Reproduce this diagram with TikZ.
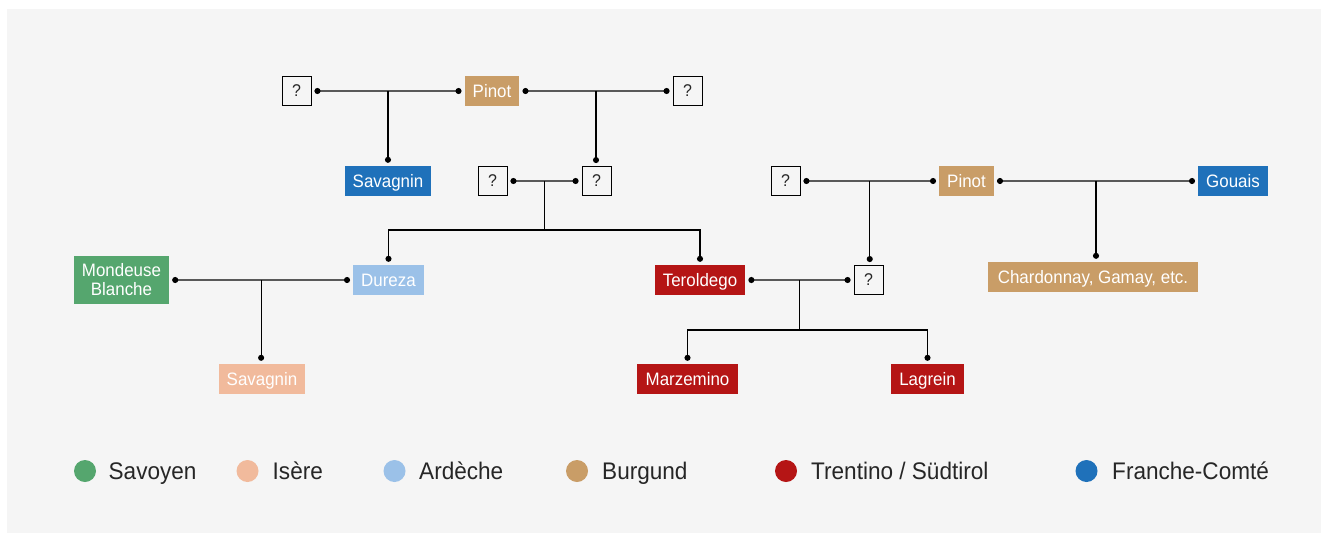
\documentclass[tikz,border=0pt]{standalone}
\usepackage{fontspec}
\setmainfont{Liberation Sans}[FakeStretch=0.94]
\usetikzlibrary{arrows.meta}

\definecolor{savoyen}{RGB}{85,166,110}
\definecolor{isere}{RGB}{241,186,156}
\definecolor{ardeche}{RGB}{155,193,232}
\definecolor{burgund}{RGB}{201,157,103}
\definecolor{trentino}{RGB}{181,21,21}
\definecolor{franche}{RGB}{31,113,186}
\definecolor{panel}{RGB}{245,245,245}

\begin{document}
\begin{tikzpicture}[x=1pt,y=-1pt]
  \useasboundingbox (0,0) rectangle (1321,533);
  \fill[panel] (7,9) rectangle (1321,533);

  \begin{scope}[every node/.style={rectangle,text=white,inner xsep=8pt,inner ysep=0pt,minimum height=30pt,text height=12.5pt,text depth=0pt,font=\fontsize{18}{19}\selectfont}]
      \node[fill=burgund] (pinot1) at (492,91) {Pinot};

      \node[fill=franche] (sav1) at (388,181) {Savagnin};
      \node[fill=burgund] (pinot2) at (966.5,181) {Pinot};
      \node[fill=franche] (gouais) at (1233,181) {Gouais};

      \node[fill=savoyen,align=center,text height={},text depth={},minimum height=48pt] (mond) at (121.5,280) {Mondeuse\\Blanche};
      \node[fill=ardeche] (dur) at (388.5,280) {Dureza};
      \node[fill=trentino] (ter) at (700,280) {Teroldego};
      \node[fill=burgund,inner xsep=10pt] (chard) at (1093,277) {Chardonnay, Gamay, etc.};

      \node[fill=isere] (sav2) at (262,379) {Savagnin};
      \node[fill=trentino,inner xsep=9pt] (marz) at (687.5,379) {Marzemino};
      \node[fill=trentino] (lag) at (927.5,379) {Lagrein};
  \end{scope}

  \begin{scope}[every node/.style={draw,line width=0.9pt,minimum size=29pt,inner sep=0pt,font=\fontsize{17}{17}\selectfont,text=black!85}]
      \node (q1) at (296.5,91) {?};
      \node (q2) at (687.5,91) {?};

      \node (q3) at (492.5,181) {?};
      \node (q4) at (596.5,181) {?};
      \node (q5) at (785.5,181) {?};

      \node (q6) at (868.5,280) {?};
  \end{scope}

  \tikzset{couple/.style={{Circle[length=6pt,black]}-{Circle[length=6pt,black]}, black!65, line width=1.7pt, shorten <=3pt, shorten >=3pt},
           child/.style={-{Circle[length=6pt]}, black, line width=1.2pt, shorten >=3pt},
           stem/.style={black, line width=1.2pt}}

  \draw[couple] (q1) -- coordinate (m1) (pinot1);
  \draw[couple] (pinot1) -- coordinate (m2) (q2);
  \draw[couple] (q3) -- coordinate (m3) (q4);
  \draw[couple] (mond) -- coordinate (m4) (dur);
  \draw[couple] (q5) -- coordinate (m5) (pinot2);
  \draw[couple] (ter) -- coordinate (m6) (q6);
  \draw[couple] (pinot2) -- coordinate (m7) (gouais);

  \draw[child] (m1) -- (m1 |- sav1.north);
  \draw[child] (m2) -- (m2 |- q4.north);
  \draw[child] (m4) -- (m4 |- sav2.north);
  \draw[child] (m5) -- (m5 |- q6.north);
  \draw[child] (m7) -- (m7 |- chard.north);

  \draw[stem] (m3) -- ++(0,49) coordinate (b3);
  \draw[child] (b3) -| (dur.north);
  \draw[child] (b3) -| (ter.north);

  \draw[stem] (m6) -- ++(0,50) coordinate (b6);
  \draw[child] (b6) -| (marz.north);
  \draw[child] (b6) -| (lag.north);

  % legend
  \begin{scope}[every node/.style={circle,minimum size=22pt,inner sep=0pt}]
      \node[fill=savoyen] (l1) at (85,471) {};
      \node[fill=isere] (l2) at (247.5,471) {};
      \node[fill=ardeche] (l3) at (394.5,471) {};
      \node[fill=burgund] (l4) at (577,471) {};
      \node[fill=trentino] (l5) at (786,471) {};
      \node[fill=franche] (l6) at (1086.5,471) {};
  \end{scope}

  \begin{scope}[every node/.style={anchor=base west,inner sep=0pt,font=\fontsize{24}{24}\selectfont,text=black!85}]
      \node (t1) at (108.5,479.5) {Savoyen};
      \node (t2) at (272.5,479.5) {Isère};
      \node (t3) at (419,479.5) {Ardèche};
      \node (t4) at (602,479.5) {Burgund};
      \node (t5) at (811,479.5) {Trentino / Südtirol};
      \node (t6) at (1112,479.5) {Franche-Comté};
  \end{scope}
\end{tikzpicture}
\end{document}
